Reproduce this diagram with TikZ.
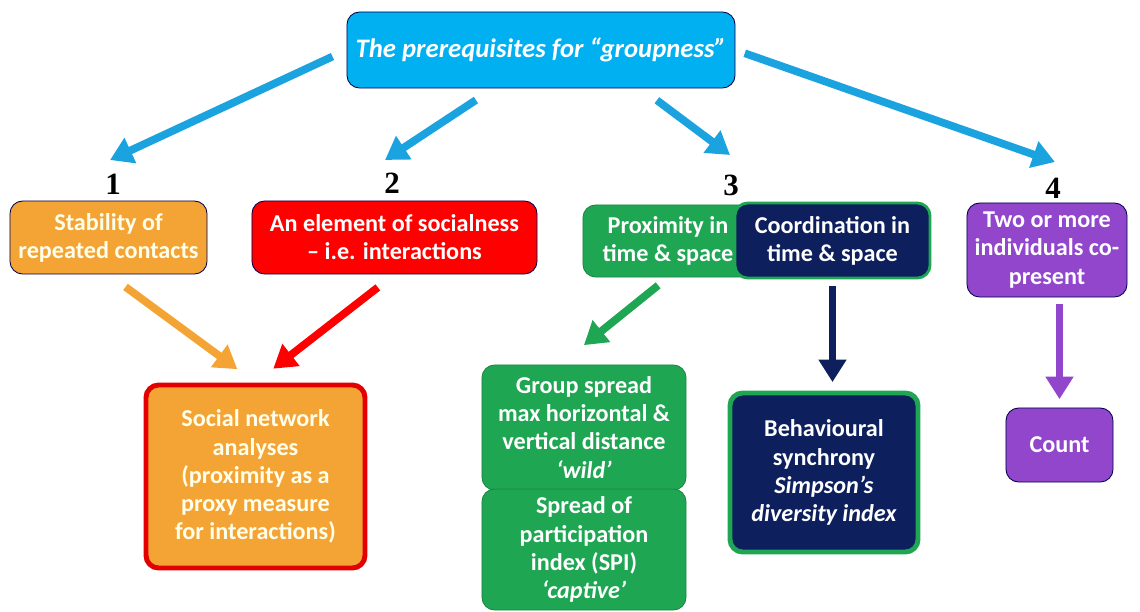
\documentclass[tikz,border=0pt]{standalone}
\usepackage{fontspec}
\setmainfont{Carlito}
\newfontfamily\numberfont{Liberation Serif}
\usetikzlibrary{arrows.meta}
\definecolor{skyblue}{HTML}{00B0F0}
\definecolor{arrowblue}{HTML}{1BA3E0}
\definecolor{boxorange}{HTML}{F4A435}
\definecolor{boxred}{HTML}{FF0000}
\definecolor{boxgreen}{HTML}{1FA653}
\definecolor{boxnavy}{HTML}{0D1F5C}
\definecolor{boxpurple}{HTML}{9146CC}
\colorlet{BoxBorder}{black!70!blue}
\colorlet{BoxText}{white!92!yellow}

\begin{document}
\begin{tikzpicture}[x=0.025cm, y=-0.025cm,
    box/.style={rounded corners=9pt, draw=BoxBorder, line width=0.6pt, align=center,
        inner sep=0pt, text=BoxText, font=\bfseries\fontsize{17.2}{20}\selectfont},
    number/.style={font=\numberfont\bfseries\fontsize{22}{22}\selectfont, inner sep=0pt},
    flow/.style={line width=5.5pt, -{Triangle[width=19pt,length=16pt]}}]

    \useasboundingbox (0, 0) rectangle (1140, 612);

    \node [box, fill=skyblue, minimum width=9.7cm, minimum height=1.9cm,
        font=\bfseries\itshape\fontsize{19}{22}\selectfont, text=white]
        (top) at (541, 50) {The prerequisites for “groupness”};

    \node [number] (n1) at (113, 184) {1};
    \node [number] (n2) at (392, 183) {2};
    \node [number] (n3) at (731, 185) {3};
    \node [number] (n4) at (1053, 188) {4};

    % Puntas de las flechas azules.
    \coordinate (t1) at (110, 160);
    \coordinate (t2) at (385, 160);
    \coordinate (t3) at (730, 155);
    \coordinate (t4) at (1055, 162);

    \node [box, fill=boxorange, minimum width=4.925cm, minimum height=1.825cm]
        (stab) at (108.5, 237.5) {Stability of\\repeated contacts};
    \node [box, fill=boxred, text=white, minimum width=7.125cm, minimum height=1.825cm]
        (soc) at (394.5, 237.5) {An element of socialness\\– i.e. interactions};
    \node [box, fill=boxgreen, text=white, minimum width=4.25cm, minimum height=1.8cm,
        draw=boxgreen!80!black] (prox) at (668, 241) {Proximity in\\time \& space};
    \node [box, fill=boxnavy, text=white, draw=boxgreen, line width=2pt,
        minimum width=4.875cm, minimum height=1.875cm]
        (coord) at (832.5, 240.5) {Coordination in\\time \& space};
    \node [box, fill=boxpurple, text=white, minimum width=4cm, minimum height=2.35cm]
        (two) at (1047, 250) {Two or more\\individuals co-\\present};

    \node [box, fill=boxorange, draw=boxred!90!black, line width=3.5pt,
        minimum width=5.475cm, minimum height=4.575cm] (sna) at (255.5, 476.5)
        {Social network\\analyses\\(proximity as a\\proxy measure\\for interactions)};
    \node [box, fill=boxgreen, text=white, draw=boxgreen!80!black,
        minimum width=5.1cm, minimum height=3.125cm] (grp) at (584, 427.5)
        {Group spread\\max horizontal \&\\vertical distance\\\textit{‘wild’}};
    \node [box, fill=boxgreen, text=white, draw=boxgreen!80!black,
        minimum width=5.1cm, minimum height=3.025cm] (spi) at (584, 549.5)
        {Spread of\\participation\\index (SPI)\\\textit{‘captive’}};
    \node [box, fill=boxnavy, text=white, draw=boxgreen, line width=3.5pt,
        minimum width=4.7cm, minimum height=3.975cm] (beh) at (824, 472.5)
        {Behavioural\\synchrony\\\textit{Simpson’s}\\\textit{diversity index}};
    \node [box, fill=boxpurple, text=white, minimum width=2.675cm, minimum height=1.85cm]
        (cnt) at (1059.5, 445) {Count};

    \draw [flow, arrowblue, shorten <=11pt] (top.west) -- (t1);
    \draw [flow, arrowblue, shorten <=15pt] (top.219) -- (t2);
    \draw [flow, arrowblue, shorten <=14pt] (top.339) -- (t3);
    \draw [flow, arrowblue, shorten <=7pt] (top.east) -- (t4);

    \draw [flow, boxorange, shorten <=15pt, shorten >=16pt] (stab.south) -- (sna.north);
    \draw [flow, boxred, shorten <=15pt, shorten >=16pt] (soc.south) -- (sna.north);
    \draw [flow, boxgreen, shorten <=9pt, shorten >=22pt] (prox.south) -- (grp.111);
    \draw [flow, boxnavy, shorten <=5pt, shorten >=6pt]
        (coord.south) -- (coord.south |- beh.north);
    \draw [flow, boxpurple, shorten <=5pt, shorten >=6pt]
        (cnt.north |- two.south) -- (cnt.north);
\end{tikzpicture}
\end{document}
